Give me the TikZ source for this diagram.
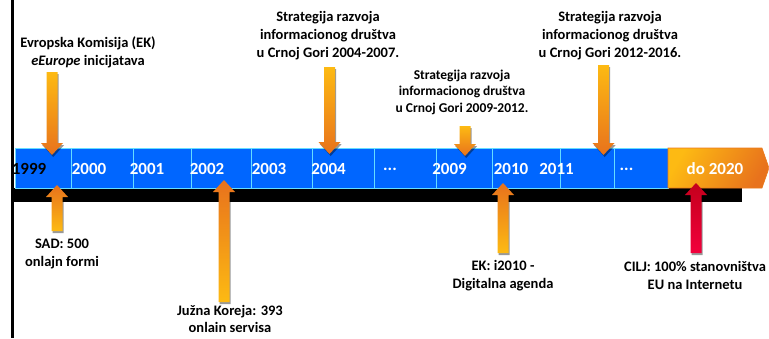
\documentclass[tikz,border=0pt]{standalone}
\usepackage{fontspec}
\setmainfont{Carlito}
\usetikzlibrary{shadows,calc}

\definecolor{barblue}{HTML}{0066FF}
\definecolor{cellline}{HTML}{66DDFF}
\definecolor{ambr}{HTML}{FDBA13}
\definecolor{orng}{HTML}{E8721C}
\definecolor{redtop}{HTML}{C4001C}
\definecolor{redbot}{HTML}{F2003C}

\tikzset{
  lbl/.style={font=\bfseries\fontsize{14.5}{18}\selectfont, align=center, inner sep=0pt},
  lblsmall/.style={font=\bfseries\fontsize{13.5}{16.5}\selectfont, align=center, inner sep=0pt},
  yr/.style={font=\bfseries\fontsize{17}{20}\selectfont, text=white, inner sep=0pt},
  arrshadow/.style={drop shadow={shadow xshift=1.2pt, shadow yshift=-2pt, fill=black, opacity=0.4}},
  downarr/.style={arrshadow, top color=ambr, bottom color=orng},
  uparr/.style={arrshadow, top color=orng, bottom color=ambr},
  redarr/.style={arrshadow, top color=redtop, bottom color=redbot},
  cellrule/.style={draw=cellline, line width=1pt},
}

% block arrow from a tail coordinate to a tip coordinate (vertical)
\newcommand\blockarrow[3]{%
  \path[#1] let \p1=(#2), \p2=(#3), \n1={sign(\y2-\y1)} in
    (\x1-5.5pt,\y1) -- (\x1+5.5pt,\y1) -- (\x1+5.5pt,\y2-\n1*12pt)
    -- (\x1+11pt,\y2-\n1*12pt) -- (\x2,\y2) -- (\x1-11pt,\y2-\n1*12pt)
    -- (\x1-5.5pt,\y2-\n1*12pt) -- cycle;}

\begin{document}
\begin{tikzpicture}[x=1pt,y=-1pt]
\useasboundingbox (0,0) rectangle (769,338);

% left border line
\draw[line width=3pt] (12.5,0) -- (12.5,338);

% timeline bar with shadow strip
\fill[black] (14,188) rectangle (742,202);
\path[cellrule, fill=barblue] (15,148) rectangle (668,188);
\foreach \x in {71,133,191,251,312,374,436,492,560,614}
  \draw[cellrule] (\x,148) -- (\x,188);
\path[draw=orng!90!ambr, line width=0.6pt, left color=ambr, right color=orng, shading angle=60]
  (668,148) -- (762,148) -- (769,168) -- (762,188) -- (668,188) -- cycle;

% year labels
\node[yr, text=black] (y1999) at (29,169) {1999};
\node[yr] (y2000) at (89,169) {2000};
\node[yr] (y2001) at (147,169) {2001};
\node[yr] (y2002) at (207,169) {2002};
\node[yr] (y2003) at (269,169) {2003};
\node[yr] (y2004) at (328.5,169) {2004};
\node[yr] (dots1) at (390,169) {...};
\node[yr] (y2009) at (449.5,169) {2009};
\node[yr] (y2010) at (511,169) {2010};
\node[yr] (y2011) at (556.5,169) {2011};
\node[yr] (dots2) at (626.5,169) {...};
\node[yr] (y2020) at (715,169) {do 2020};

% event labels
\node[lbl] (ek) at (88,52) {Evropska Komisija (EK)\\\textit{eEurope} inicijatava};
\node[lbl] (s04) at (328,36) {Strategija razvoja\\informacionog društva\\u Crnoj Gori 2004-2007.};
\node[lblsmall] (s09) at (462,92) {Strategija razvoja\\informacionog društva\\u Crnoj Gori 2009-2012.};
\node[lbl] (s12) at (610,36) {Strategija razvoja\\informacionog društva\\u Crnoj Gori 2012-2016.};
\node[lbl] (sad) at (62,254) {SAD: 500\\onlajn formi};
\node[lbl, font=\bfseries\fontsize{14.5}{17}\selectfont] (kor) at (230,319) {Južna Koreja: 393\\onlain servisa};
\node[lbl] (i2010) at (503,275.5) {EK: i2010 -\\Digitalna agenda};
\node[lbl] (cilj) at (695,275.5) {CILJ: 100\% stanovništva\\EU na Internetu};

% arrow ends
\coordinate (ekT) at (52,72);    \coordinate (ekH) at (52,155);
\coordinate (s04T) at (329.5,67);\coordinate (s04H) at (329.5,154);
\coordinate (s09T) at (465,126); \coordinate (s09H) at (465,156);
\coordinate (s12T) at (603.5,65);\coordinate (s12H) at (603.5,155);
\coordinate (sadT) at (57,231);  \coordinate (sadH) at (57,185);
\coordinate (korT) at (224,302); \coordinate (korH) at (224,180);
\coordinate (i10T) at (503,253); \coordinate (i10H) at (503,183);
\coordinate (cilT) at (696,253); \coordinate (cilH) at (696,183);

% arrows
\blockarrow{downarr}{ekT}{ekH}
\blockarrow{downarr}{s04T}{s04H}
\blockarrow{downarr}{s09T}{s09H}
\blockarrow{downarr}{s12T}{s12H}
\blockarrow{uparr}{sadT}{sadH}
\blockarrow{uparr}{korT}{korH}
\blockarrow{uparr}{i10T}{i10H}
\blockarrow{redarr}{cilT}{cilH}
\end{tikzpicture}
\end{document}
